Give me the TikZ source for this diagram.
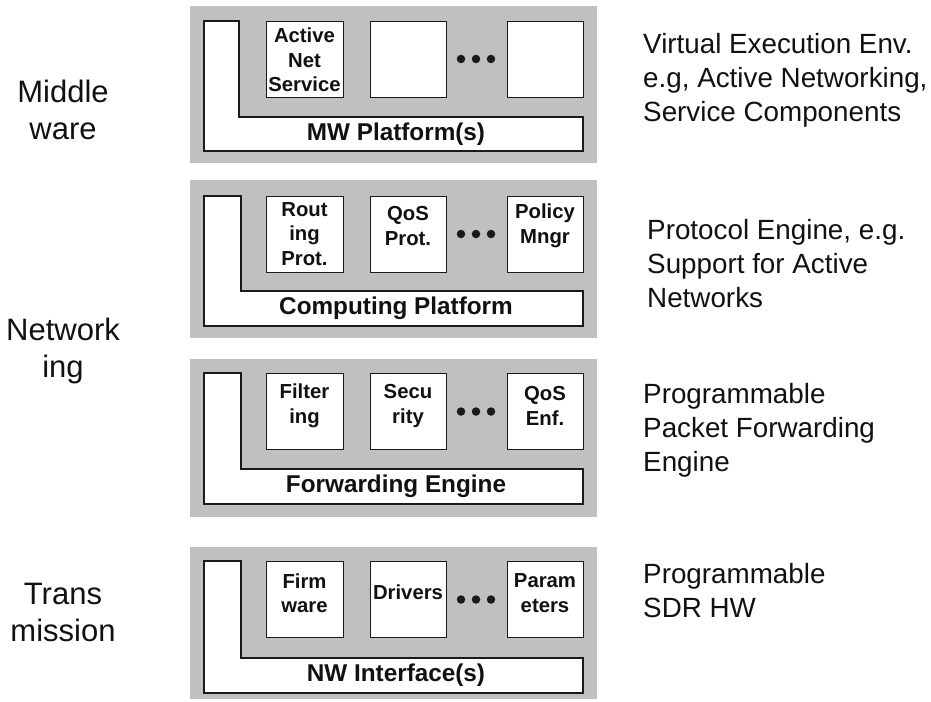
\documentclass[tikz,border=0pt]{standalone}
\usepackage{fontspec}
\setmainfont{Liberation Sans}
\definecolor{panelgray}{HTML}{C0C0C0}
\definecolor{edge}{HTML}{1A1A1A}
\definecolor{ink}{HTML}{111111}
\begin{document}
\begin{tikzpicture}[x=1pt,y=-1pt,
  panel/.style={fill=panelgray, draw=none, inner sep=0pt, outer sep=0pt, anchor=north west},
  svcbox/.style={draw=edge, fill=white, line width=1.3pt, inner sep=0pt, anchor=north west,
                 minimum height=76pt},
  lbar/.style={draw=edge, fill=white, line width=1.3pt, line join=miter},
  barlabel/.style={inner sep=0pt, text=ink, font=\fontsize{24.3}{28}\selectfont\bfseries},
  svctext/.style={inner sep=0pt, text=ink, align=center, font=\fontsize{20.3}{24.5}\selectfont\bfseries},
  layertext/.style={inner sep=0pt, text=ink, align=center, font=\fontsize{31}{37}\selectfont},
  roletext/.style={inner sep=0pt, text=ink, align=left, anchor=west, font=\fontsize{27.8}{34}\selectfont},
  dot/.style={circle, fill=edge, inner sep=0pt, minimum size=8.5pt}
]
\useasboundingbox (0,0) rectangle (931,701);

% ---------- Middleware layer ----------
\node[panel, minimum width=407pt, minimum height=157pt] (p1) at (190,6) {};
\draw[lbar] (204,21) -- (239,21) -- (239,117) -- (583,117) -- (583,151) -- (204,151) -- cycle;
\node[barlabel] (p1bar) at (396,134.5) {MW Platform(s)};
\node[svcbox, minimum width=77pt] (p1a) at (266,21) {};
\node[svcbox, minimum width=76pt] (p1b) at (370,21) {};
\node[svcbox, minimum width=76pt] (p1c) at (507,21) {};
\node[svctext] (p1at) at (304.5,60) {Active\\Net\\Service};
\foreach \i/\dx in {1/461,2/476,3/491} \node[dot] (p1d\i) at (\dx,59) {};

% ---------- Networking: protocol layer ----------
\node[panel, minimum width=407pt, minimum height=158pt] (p2) at (190,180) {};
\draw[lbar] (204,196) -- (241,196) -- (241,291) -- (583,291) -- (583,326) -- (204,326) -- cycle;
\node[barlabel] (p2bar) at (396,308.5) {Computing Platform};
\node[svcbox, minimum width=77pt] (p2a) at (266,196) {};
\node[svcbox, minimum width=76pt] (p2b) at (370,196) {};
\node[svcbox, minimum width=76pt] (p2c) at (507,196) {};
\node[svctext] (p2at) at (304.5,234) {Rout\\ing\\Prot.};
\node[svctext] (p2bt) at (408,226) {QoS\\Prot.};
\node[svctext] (p2ct) at (545,226) {Policy\\Mngr};
\foreach \i/\dx in {1/461,2/476,3/491} \node[dot] (p2d\i) at (\dx,234) {};

% ---------- Networking: forwarding layer ----------
\node[panel, minimum width=407pt, minimum height=158pt] (p3) at (190,359) {};
\draw[lbar] (204,373) -- (241,373) -- (241,469) -- (583,469) -- (583,504) -- (204,504) -- cycle;
\node[barlabel] (p3bar) at (396,486.5) {Forwarding Engine};
\node[svcbox, minimum width=77pt] (p3a) at (266,373) {};
\node[svcbox, minimum width=76pt] (p3b) at (370,373) {};
\node[svcbox, minimum width=76pt] (p3c) at (507,373) {};
\node[svctext] (p3at) at (304.5,406) {Filter\\ing};
\node[svctext] (p3bt) at (408,406) {Secu\\rity};
\node[svctext] (p3ct) at (545,406) {QoS\\Enf.};
\foreach \i/\dx in {1/461,2/476,3/491} \node[dot] (p3d\i) at (\dx,411.5) {};

% ---------- Transmission layer ----------
\node[panel, minimum width=407pt, minimum height=152pt] (p4) at (190,547) {};
\draw[lbar] (204,561) -- (241,561) -- (241,658) -- (583,658) -- (583,693) -- (204,693) -- cycle;
\node[barlabel] (p4bar) at (396,675.5) {NW Interface(s)};
\node[svcbox, minimum width=77pt] (p4a) at (266,561) {};
\node[svcbox, minimum width=76pt] (p4b) at (370,561) {};
\node[svcbox, minimum width=76pt] (p4c) at (507,561) {};
\node[svctext] (p4at) at (304.5,593) {Firm\\ware};
\node[svctext] (p4bt) at (408,592) {Drivers};
\node[svctext] (p4ct) at (545,593) {Param\\eters};
\foreach \i/\dx in {1/461,2/476,3/491} \node[dot] (p4d\i) at (\dx,599.5) {};

% ---------- layer names (left) ----------
\node[layertext] (lmw) at (63,110) {Middle\\ware};
\node[layertext] (lnet) at (63,351) {Network\\ing};
\node[layertext] (ltx) at (63,612) {Trans\\mission};

% ---------- roles (right) ----------
\node[roletext] (rmw) at (643,80) {Virtual Execution Env.\\e.g, Active Networking,\\Service Components};
\node[roletext] (rproto) at (647,264) {Protocol Engine, e.g.\\Support for Active\\Networks};
\node[roletext] (rfwd) at (643,430) {Programmable\\Packet Forwarding\\Engine};
\node[roletext] (rhw) at (643,591) {Programmable\\SDR HW};
\end{tikzpicture}
\end{document}
